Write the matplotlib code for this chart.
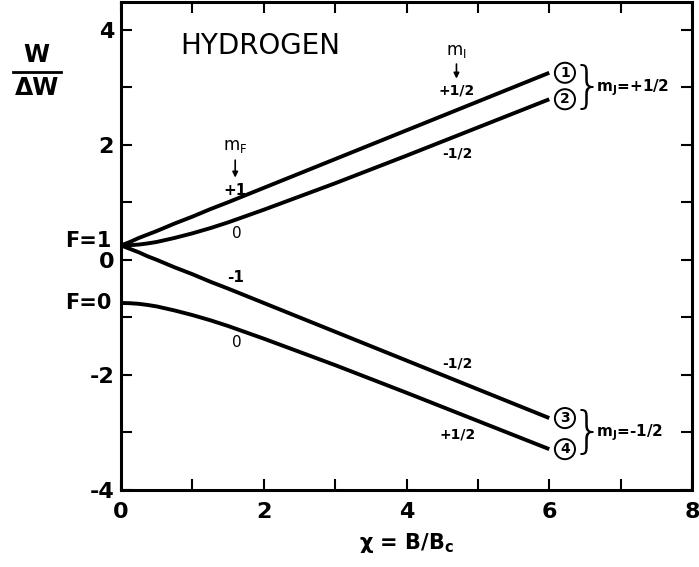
import numpy as np
import matplotlib
matplotlib.use("Agg")
import matplotlib.pyplot as plt

plt.rcParams['font.family'] = ['DejaVu Sans']
plt.rcParams['mathtext.default'] = 'regular'
plt.rcParams['axes.unicode_minus'] = False

# field parameter x = B/Bc where the curves were read
x_read = [0, 0.125, 0.25, 0.375, 0.5, 0.75, 1.0, 1.25, 1.5, 2.0, 2.5, 3.0, 4.0, 5.0, 6.0]

# W/dW for the four states
state1 = [0.25, 0.31, 0.38, 0.44, 0.50, 0.63, 0.75, 0.88, 1.00, 1.25, 1.50, 1.75, 2.25, 2.75, 3.25]
state2 = [0.25, 0.254, 0.265, 0.285, 0.31, 0.38, 0.46, 0.55, 0.65, 0.87, 1.10, 1.33, 1.81, 2.30, 2.79]
state3 = [0.25, 0.19, 0.13, 0.06, 0.00, -0.13, -0.25, -0.38, -0.50, -0.75, -1.00, -1.25, -1.75, -2.25, -2.75]
state4 = [-0.75, -0.754, -0.765, -0.785, -0.81, -0.88, -0.96, -1.05, -1.15, -1.37, -1.60, -1.83, -2.31, -2.80, -3.29]
states = [state1, state2, state3, state4]
state_names = ['1', '2', '3', '4']

xticks = [0, 2, 4, 6, 8]
yticks = [-4, -2, 0, 2, 4]

fig = plt.figure(figsize=(6.99, 5.67), dpi=100)
ax = fig.add_axes([121/699, 77/567, 571/699, 488/567])

for s in states:
    ax.plot(x_read, s, color='black', lw=2.8, solid_capstyle='butt')

ax.set_xlim(0, 8)
ax.set_ylim(-4, 4.48)
ax.set_xticks(xticks)
ax.set_yticks(yticks)
ax.set_xticks(range(0, 9), minor=True)
ax.set_yticks(range(-4, 5), minor=True)
ax.tick_params(which='both', direction='in', top=True, right=True,
               length=8, width=1.5, labelsize=16)
ax.tick_params(axis='x', pad=9)
ax.tick_params(axis='y', pad=5)
for lab in ax.get_xticklabels() + ax.get_yticklabels():
    lab.set_fontweight('bold')
for sp in ax.spines.values():
    sp.set_linewidth(2.2)

ax.set_xlabel("χ = B/B$_c$", fontsize=15, labelpad=6, weight='bold')

# y label as a fraction, outside the axes
ax.text(-1.18, 3.35, "W", fontsize=17, ha='center', va='bottom', clip_on=False, weight='bold')
ax.plot([-1.52, -0.84], [3.27, 3.27], color='black', lw=2, clip_on=False)
ax.text(-1.18, 3.2, "ΔW", fontsize=17, ha='center', va='top', clip_on=False, weight='bold')

ax.text(-0.14, 0.32, "F=1", fontsize=15, ha='right', va='center', clip_on=False, weight='bold')
ax.text(-0.14, -0.75, "F=0", fontsize=15, ha='right', va='center', clip_on=False, weight='bold')

ax.text(1.95, 3.72, "HYDROGEN", fontsize=20, ha='center', va='center')

# m_F column
ax.text(1.6, 1.98, "m$_F$", fontsize=12, ha='center', va='center')
ax.annotate("", xy=(1.6, 1.38), xytext=(1.6, 1.78),
            arrowprops=dict(arrowstyle='-|>', color='black', lw=1.2, mutation_scale=8))
ax.text(1.6, 1.2, "+1", fontsize=11, ha='center', va='center', weight='bold')
ax.text(1.62, 0.45, "0", fontsize=11, ha='center', va='center')
ax.text(1.6, -0.31, "-1", fontsize=11, ha='center', va='center', weight='bold')
ax.text(1.62, -1.44, "0", fontsize=11, ha='center', va='center')

# m_I column
ax.text(4.7, 3.63, "m$_I$", fontsize=12, ha='center', va='center')
ax.annotate("", xy=(4.7, 3.1), xytext=(4.7, 3.45),
            arrowprops=dict(arrowstyle='-|>', color='black', lw=1.2, mutation_scale=8))
ax.text(4.7, 2.94, "+1/2", fontsize=10, ha='center', va='center', weight='bold')
ax.text(4.72, 1.84, "-1/2", fontsize=10, ha='center', va='center', weight='bold')
ax.text(4.72, -1.81, "-1/2", fontsize=10, ha='center', va='center', weight='bold')
ax.text(4.72, -3.03, "+1/2", fontsize=10, ha='center', va='center', weight='bold')

# circled state numbers at the line ends
for s, name in zip(states, state_names):
    ax.text(x_read[-1] + 0.22, s[-1], name, fontsize=10, ha='center', va='center',
            weight='bold',
            bbox=dict(boxstyle='circle,pad=0.22', fc='white', ec='black', lw=1.4))

# braces and m_J labels
ax.text(6.53, 2.99, "}", fontsize=36, ha='center', va='center', weight='light')
ax.text(6.66, 2.99, "m$_J$=+1/2", fontsize=11, ha='left', va='center', weight='bold')
ax.text(6.53, -3.01, "}", fontsize=36, ha='center', va='center', weight='light')
ax.text(6.66, -3.01, "m$_J$=-1/2", fontsize=11, ha='left', va='center', weight='bold')

fig.savefig("out.png", dpi=100)
